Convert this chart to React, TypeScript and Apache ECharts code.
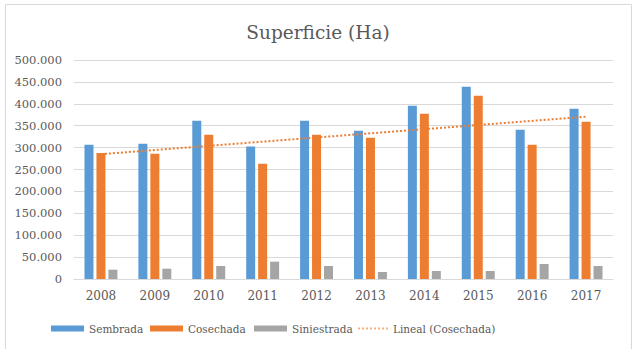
import React, { useEffect, useRef } from "react";
import * as echarts from "echarts";

const years = ["2008", "2009", "2010", "2011", "2012", "2013", "2014", "2015", "2016", "2017"];
const sembrada = [306400, 308600, 361200, 302500, 361200, 338400, 395500, 439000, 340600, 388700];
const cosechada = [287400, 285800, 329200, 262900, 329200, 322400, 377200, 418400, 306400, 358900];
const siniestrada = [21300, 23500, 29700, 39600, 29700, 16000, 18300, 18300, 34300, 29700];
const linealPoints: [string, number][] = [["2008", 285000], ["2017", 370600]];
const legendNames = ["Sembrada", "Cosechada", "Siniestrada", "Lineal (Cosechada)"];

const serif = "DejaVu Serif";
const textColor = "#595959";
const dotPath =
  "path://M0,0h2v2h-2z M4,0h2v2h-2z M8,0h2v2h-2z M12,0h2v2h-2z M16,0h2v2h-2z M20,0h2v2h-2z M24,0h2v2h-2z M28,0h2v2h-2z";

function fmt(v: number): string {
  const s = Math.round(v).toString();
  return s.replace(/\B(?=(\d{3})+(?!\d))/g, ".");
}

export default function App() {
  const ref = useRef<HTMLDivElement>(null);
  useEffect(() => {
    if (!ref.current) return;
    const chart = echarts.init(ref.current, null, { renderer: "svg" });
    const legendLefts = [46, 145, 249, 353];
    const legends = legendNames.map((name, i) => {
      const isLine = i === 3;
      return {
        left: legendLefts[i],
        top: 318,
        itemWidth: isLine ? 30 : 33,
        itemHeight: isLine ? 2 : 6,
        textStyle: {
          fontFamily: serif,
          fontSize: 10.5,
          color: textColor,
        },
        data: [
          isLine
            ? { name, icon: dotPath, itemStyle: { color: "#F4B183" } }
            : { name, icon: "rect" },
        ],
      };
    });
    chart.setOption({
      animation: false,
      backgroundColor: "#ffffff",
      textStyle: { fontFamily: serif },
      title: {
        text: "Superficie (Ha)",
        left: "center",
        top: 18,
        textStyle: { fontFamily: serif, fontSize: 18.5, fontWeight: "normal", color: textColor },
      },
      graphic: [
        {
          type: "rect",
          shape: { x: 5.5, y: 4.5, width: 626, height: 360 },
          style: { fill: "none", stroke: "#d9d9d9", lineWidth: 1 },
          silent: true,
        },
      ],
      legend: legends,
      grid: { left: 74, right: 23, top: 60, bottom: 70 },
      xAxis: {
        type: "category",
        data: years,
        axisLine: { lineStyle: { color: "#d9d9d9" } },
        axisTick: { show: false },
        axisLabel: { fontFamily: serif, fontSize: 12, color: textColor, margin: 11 },
      },
      yAxis: {
        type: "value",
        min: 0,
        max: 500000,
        interval: 50000,
        axisLine: { show: false },
        axisTick: { show: false },
        splitLine: { lineStyle: { color: "#d9d9d9", width: 1 } },
        axisLabel: {
          fontFamily: serif,
          fontSize: 11.5,
          color: textColor,
          margin: 12,
          formatter: (v: number) => fmt(v),
        },
      },
      series: [
        {
          name: "Sembrada",
          type: "bar",
          data: sembrada,
          barWidth: 9,
          barGap: "33%",
          itemStyle: { color: "#5B9BD5" },
        },
        {
          name: "Cosechada",
          type: "bar",
          data: cosechada,
          barWidth: 9,
          barGap: "33%",
          itemStyle: { color: "#ED7D31" },
        },
        {
          name: "Siniestrada",
          type: "bar",
          data: siniestrada,
          barWidth: 9,
          barGap: "33%",
          itemStyle: { color: "#A5A5A5" },
        },
        {
          name: "Lineal (Cosechada)",
          type: "line",
          data: linealPoints,
          symbol: "none",
          z: 5,
          lineStyle: { color: "#ED7D31", width: 2, type: [2, 2] },
          itemStyle: { color: "#ED7D31" },
        },
      ],
    });
    return () => chart.dispose();
  }, []);
  return (
    <div
      ref={ref}
      style={{ position: "fixed", left: 0, top: 0, width: 636, height: 349 }}
    />
  );
}
